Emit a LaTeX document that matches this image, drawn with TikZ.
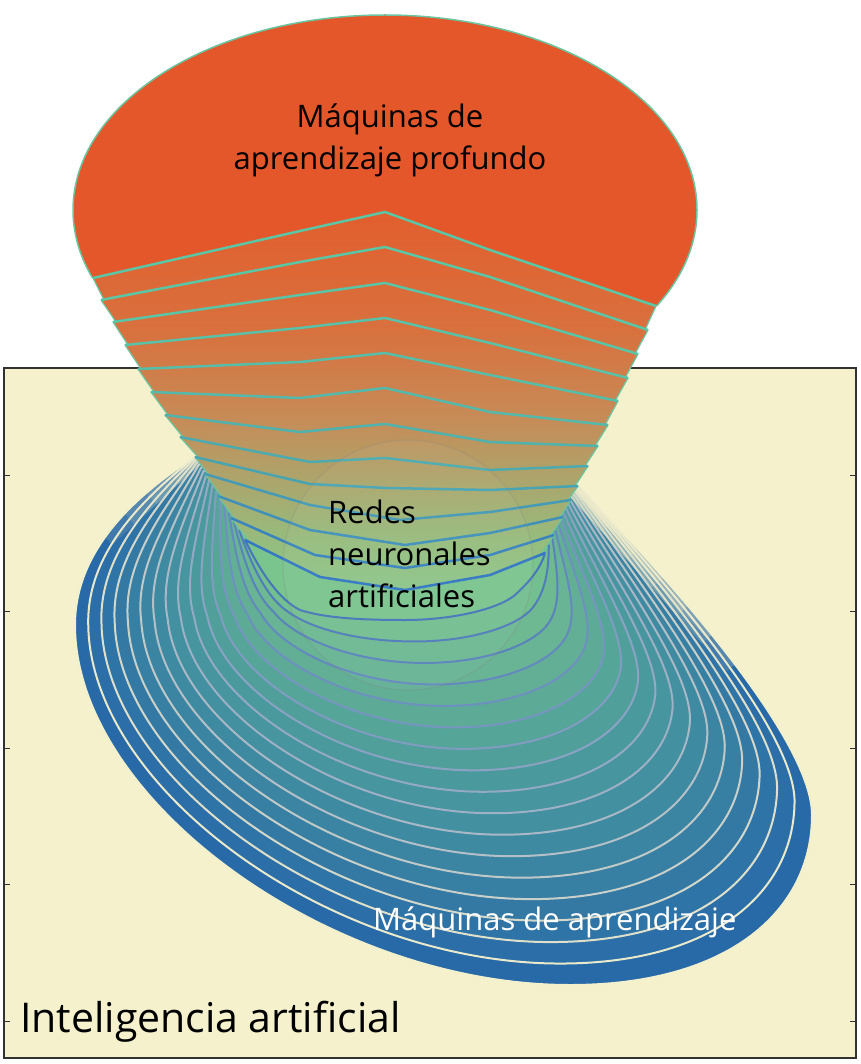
\documentclass[tikz,border=0pt]{standalone}
\usepackage{fontspec}
\setmainfont{Open Sans}
\usetikzlibrary{calc}

\definecolor{cream}{RGB}{244,241,204}
\definecolor{frameline}{RGB}{50,50,50}
\definecolor{faceorange}{RGB}{228,87,43}
\definecolor{conetop}{RGB}{226,94,46}
\definecolor{cone330}{RGB}{216,113,62}
\definecolor{cone420}{RGB}{198,140,88}
\definecolor{cone480}{RGB}{172,165,108}
\definecolor{cone540}{RGB}{150,188,125}
\definecolor{conebot}{RGB}{140,198,140}
\definecolor{coneedge}{RGB}{108,197,160}
\definecolor{chevtop}{RGB}{90,198,165}
\definecolor{chevbot}{RGB}{52,120,195}
\definecolor{ringout}{RGB}{40,105,168}
\definecolor{ringmid}{RGB}{72,152,158}
\definecolor{ringin}{RGB}{122,196,142}
\definecolor{lineout}{RGB}{243,240,205}
\definecolor{linemid}{RGB}{152,172,196}
\definecolor{linein}{RGB}{70,118,186}

\pgfdeclareverticalshading{conefill}{100bp}{color(0bp)=(conebot); color(25bp)=(conebot);
  color(31.6bp)=(cone540); color(39.6bp)=(cone480); color(47.5bp)=(cone420);
  color(59.4bp)=(cone330); color(75bp)=(conetop); color(100bp)=(conetop)}

\tikzset{
  boxframe/.style={draw=frameline, line width=2.5pt},
  ring/.style={line width=2pt, line join=round},
  chev/.style={line width=2.5pt, line join=round},
  areatext/.style={font=\fontsize{31}{42}\selectfont, inner sep=0pt},
  softedge/.style={draw=cream, line width=#1, draw opacity=0.12},
}

\begin{document}
\begin{tikzpicture}[x=1pt, y=-1pt]
\useasboundingbox (0,0) rectangle (860,1064);
\fill[cream] (4,368) rectangle (856,1058);
\draw[boxframe] (4,368) rectangle (856,1058);
\foreach \y in {475,611,748,884,1021}
  \draw[frameline, line width=1pt] (4,\y) -- (10,\y) (856,\y) -- (850,\y);

% chevron points of the cone
\foreach \j/\pl/\pbl/\pap/\pbr/\pr in {
  0/{93,278}/{300,231}/{385,212}/{490,250}/{656,306},
  1/{101,300}/{300,262}/{385,247}/{490,277}/{648,330},
  2/{113,322}/{300,295}/{385,283}/{490,310}/{638,354},
  3/{125,345}/{300,328}/{385,318}/{490,343}/{628,378},
  4/{138,369}/{300,362}/{385,353}/{490,375}/{618,401},
  5/{151,392}/{300,398}/{385,388}/{490,412}/{608,425},
  6/{165,415}/{300,432}/{385,424}/{490,442}/{598,446},
  7/{180,437}/{310,462}/{385,458}/{490,470}/{588,466},
  8/{195,457}/{310,484}/{387,488}/{490,490}/{578,486},
  9/{205,474}/{310,505}/{400,520}/{490,512}/{571,500},
  10/{218,496}/{310,530}/{405,545}/{490,533}/{563,517},
  11/{231,518}/{315,555}/{405,568}/{490,555}/{554,535},
  12/{245,540}/{320,577}/{405,590}/{490,575}/{545,553}}{
  \coordinate (L\j) at (\pl);
  \coordinate (BL\j) at (\pbl);
  \coordinate (A\j) at (\pap);
  \coordinate (BR\j) at (\pbr);
  \coordinate (R\j) at (\pr);
}

% outer and inner ring of the learning disc
\coordinate (o1) at (L8);        \coordinate (i1) at (L12);
\coordinate (o2) at (120,505);   \coordinate (i2) at (262,575);
\coordinate (o3) at (75,560);    \coordinate (i3) at (280,600);
\coordinate (o4) at (75,625);    \coordinate (i4) at (300,610);
\coordinate (o5) at (75,800);    \coordinate (i5) at (325,618);
\coordinate (o6) at (330,985);   \coordinate (i6) at (360,620);
\coordinate (o7) at (570,985);   \coordinate (i7) at (405,620);
\coordinate (o8) at (730,985);   \coordinate (i8) at (455,620);
\coordinate (o9) at (812,910);   \coordinate (i9) at (500,608);
\coordinate (o10) at (812,815);  \coordinate (i10) at (515,595);
\coordinate (o11) at (812,745);  \coordinate (i11) at (528,583);
\coordinate (o12) at (690,600);  \coordinate (i12) at (540,570);
\coordinate (o13) at (R8);       \coordinate (i13) at (R12);

\foreach \k in {0,...,17} {
  \pgfmathsetmacro\tr{\k/17}
  \pgfmathsetmacro\tq{\tr*\tr}
  \pgfmathtruncatemacro\mixa{min(200*\tr,100)}
  \pgfmathtruncatemacro\mixb{max(200*\tr-100,0)}
  \filldraw[ring, fill={ringin!\mixb!ringmid!\mixa!ringout},
      draw={linein!\mixb!linemid!\mixa!lineout}]
    ($(o1)!\tq!(i1)$) .. controls ($(o2)!\tr!(i2)$) and ($(o3)!\tr!(i3)$) .. ($(o4)!\tr!(i4)$)
    .. controls ($(o5)!\tr!(i5)$) and ($(o6)!\tr!(i6)$) .. ($(o7)!\tr!(i7)$)
    .. controls ($(o8)!\tr!(i8)$) and ($(o9)!\tr!(i9)$) .. ($(o10)!\tr!(i10)$)
    .. controls ($(o11)!\tr!(i11)$) and ($(o12)!\tr!(i12)$) .. ($(o13)!\tq!(i13)$) -- cycle;
}

% soft edge of the disc next to the neck
\coordinate (fadeR) at (745,672);
\coordinate (fadeL) at (106,538);
\foreach \f in {0.2,0.35,...,1.05} {
  \draw[softedge=26] (R8) -- ($(R8)!\f!(fadeR)$);
  \draw[softedge=12] (R8) -- ($(R8)!\f!(fadeR)$);
}
\foreach \f in {0.25,0.5,0.75,1} {
  \draw[softedge=18] (L8) -- ($(L8)!\f!(fadeL)$);
}

% cone
\shadedraw[shading=conefill, draw=coneedge, line width=1.2pt, line join=round]
  (L0) \foreach \j in {1,...,12} { -- ($(L\j)+(3,0)$) -- (L\j) }
  -- (BL12) -- (A12) -- (BR12)
  \foreach \j in {12,...,1} { -- (R\j) -- ($(R\j)+(-3,0)$) }
  -- (R0) -- (BR0) -- (A0) -- (BL0) -- cycle;

\begin{scope}
  \clip (0,0) -- (0,278) -- (L0) -- (BL0) -- (A0) -- (BR0) -- (R0)
    -- (860,306) -- (860,0) -- cycle;
  \filldraw[fill=faceorange, draw=coneedge, line width=1.5pt]
    (385,210) ellipse [x radius=312, y radius=195];
\end{scope}

\foreach \j in {0,...,12} {
  \pgfmathtruncatemacro\pc{100*(\j/12)^2}
  \draw[chev, draw={chevbot!\pc!chevtop}]
    (L\j) -- (BL\j) -- (A\j) -- (BR\j) -- (R\j);
}

\draw[gray, draw opacity=0.18, fill=white, fill opacity=0.04, line width=1.5pt]
  (408,565) circle [radius=125];

\node[areatext, align=center] (deep) at (390,140) {Máquinas de\\aprendizaje profundo};
\node[areatext, align=left, anchor=west] (nets) at (328,554) {Redes\\neuronales\\artificiales};
\node[areatext, text=white, anchor=base west] (learn) at (373,930) {Máquinas de aprendizaje};
\node[font=\fontsize{41}{48}\selectfont, inner sep=0pt, anchor=base west] (ai)
  at (20,1032) {Inteligencia artificial};
\end{tikzpicture}
\end{document}
